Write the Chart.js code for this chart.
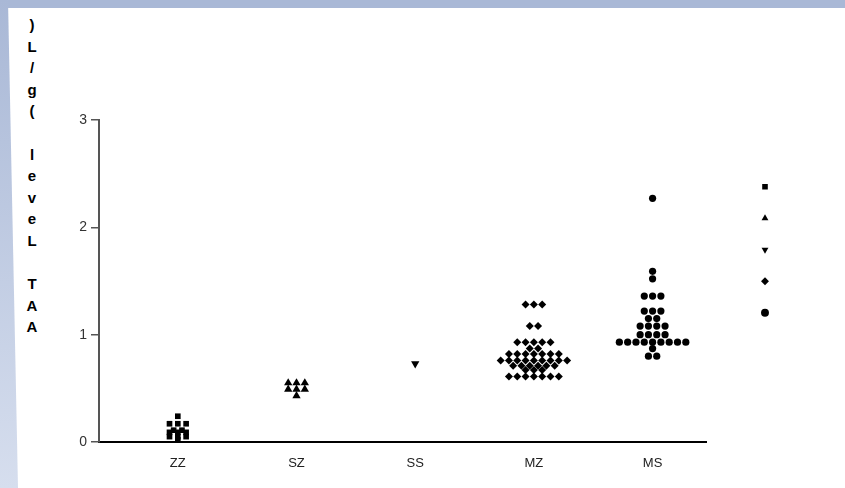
<!DOCTYPE html>
<html>
<head>
<meta charset="utf-8">
<script src="https://cdn.jsdelivr.net/npm/chart.js@4/dist/chart.umd.min.js"></script>
<style>
    html, body { margin: 0; padding: 0; width: 845px; height: 488px; overflow: hidden; background: #fff; }
    #frameTop { position: absolute; left: 0; top: 0; width: 845px; height: 8px; background: #a9b8d6; }
    #frameLeft { position: absolute; left: 0; top: 0; width: 20px; height: 488px;
        background: linear-gradient(#a9b8d6, #d6deee);
        clip-path: polygon(0 0, 8px 0, 18px 100%, 0 100%); }
    #yTitle { position: absolute; left: 22px; top: 14px; width: 20px; text-align: center;
        font: bold 15px "Liberation Sans", Arial, sans-serif; line-height: 21.6px; color: #000; }
    #wrap { position: absolute; left: 0; top: 0; width: 845px; height: 488px; }
</style>
</head>
<body>
<div id="frameTop"></div>
<div id="frameLeft"></div>
<div id="yTitle"></div>
<div id="wrap"><canvas id="chart" width="845" height="488"></canvas></div>
<script>
const categories = ['ZZ', 'SZ', 'SS', 'MZ', 'MS'];
const yTicks = [0, 1, 2, 3];
const yTitle = 'AAT Level (g/L)';

// one value per patient
const zzValues = [0.24, 0.17, 0.17, 0.17, 0.11, 0.11, 0.09, 0.09, 0.09, 0.05, 0.05, 0.05, 0.02];
const szValues = [0.55, 0.55, 0.55, 0.49, 0.49, 0.49, 0.43];
const ssValues = [0.73];
const mzValues = [1.28, 1.28, 1.28, 1.08, 1.08,
    0.93, 0.93, 0.93, 0.93, 0.93, 0.87, 0.87,
    0.82, 0.82, 0.82, 0.82, 0.82, 0.82, 0.82,
    0.76, 0.76, 0.76, 0.76, 0.76, 0.76, 0.76, 0.76, 0.76,
    0.71, 0.71, 0.71, 0.71, 0.71, 0.71, 0.67, 0.67, 0.67,
    0.61, 0.61, 0.61, 0.61, 0.61, 0.61, 0.61];
const msValues = [2.27, 1.59, 1.52, 1.36, 1.36, 1.36, 1.22, 1.22, 1.22, 1.15, 1.15,
    1.08, 1.08, 1.08, 1.08, 1.00, 1.00, 1.00, 1.00,
    0.93, 0.93, 0.93, 0.93, 0.93, 0.93, 0.93, 0.93, 0.93, 0.87, 0.80, 0.80];

// column scatter: equal values sit side by side, centred on the column
const SPREAD = 0.07;
function swarm(values, index) {
    const rows = new Map();
    values.forEach(v => rows.set(v, (rows.get(v) || 0) + 1));
    const pts = [];
    rows.forEach((n, v) => {
        for (let k = 0; k < n; k++) pts.push({ x: index + (k - (n - 1) / 2) * SPREAD, y: v });
    });
    return pts;
}

const titleBox = document.getElementById('yTitle');
yTitle.split('').reverse().forEach(ch => {
    const line = document.createElement('div');
    line.textContent = ch === ' ' ? '\u00a0' : ch;
    titleBox.appendChild(line);
});

const base = { backgroundColor: '#000', borderColor: '#000', borderWidth: 0, clip: false };
const datasets = [
    { ...base, label: 'ZZ', data: swarm(zzValues, 0), pointStyle: 'rect', pointRadius: 4, pointHoverRadius: 4 },
    { ...base, label: 'SZ', data: swarm(szValues, 1), pointStyle: 'triangle', pointRadius: 4.8, pointHoverRadius: 4.8 },
    { ...base, label: 'SS', data: swarm(ssValues, 2), pointStyle: 'triangle', rotation: 180, pointRadius: 4.8, pointHoverRadius: 4.8 },
    { ...base, label: 'MZ', data: swarm(mzValues, 3), pointStyle: 'rectRot', pointRadius: 4, pointHoverRadius: 4 },
    { ...base, label: 'MS', data: swarm(msValues, 4), pointStyle: 'circle', pointRadius: 3.6, pointHoverRadius: 3.6 }
];

new Chart(document.getElementById('chart'), {
    type: 'scatter',
    data: { datasets },
    options: {
        responsive: false,
        animation: false,
        devicePixelRatio: 1,
        events: [],
        layout: { padding: { left: 69, top: 120, right: 61, bottom: 0 } },
        plugins: {
            tooltip: { enabled: false },
            legend: {
                position: 'right',
                align: 'start',
                title: { display: true, text: '', font: { size: 12 }, padding: { top: 0, bottom: 26.8 } },
                labels: {
                    usePointStyle: true,
                    boxWidth: 6,
                    boxHeight: 5.6,
                    padding: 19.5,
                    font: { size: 12 },
                    color: '#000',
                    generateLabels: chart => Chart.defaults.plugins.legend.labels.generateLabels(chart)
                        .map(item => ({ ...item, text: '' }))
                }
            }
        },
        scales: {
            x: {
                type: 'linear',
                min: -0.664,
                max: 4.45,
                grid: { display: false, drawTicks: false },
                border: { color: '#000', width: 2 },
                afterBuildTicks: s => { s.ticks = categories.map((c, i) => ({ value: i })); },
                afterFit: s => { s.height = 46; },
                ticks: {
                    autoSkip: false,
                    maxRotation: 0,
                    padding: 14,
                    color: '#222',
                    font: { family: '"Liberation Sans", Arial, sans-serif', size: 13 },
                    callback: v => categories[v]
                }
            },
            y: {
                min: 0,
                max: 3,
                afterBuildTicks: s => { s.ticks = yTicks.map(v => ({ value: v })); },
                afterFit: s => { s.width = 30; },
                grid: { drawOnChartArea: false, drawTicks: true, tickLength: 8, color: '#555', lineWidth: 1.5 },
                border: { color: '#555', width: 2 },
                ticks: {
                    padding: 4,
                    color: '#333',
                    font: { family: '"Liberation Sans", Arial, sans-serif', size: 14 }
                }
            },
            // empty spacer between the axis end and the legend
            yPad: {
                type: 'linear',
                position: 'right',
                grid: { display: false },
                border: { display: false },
                ticks: { display: false },
                afterFit: s => { s.width = 36.5; }
            }
        }
    }
});
</script>
</body>
</html>
